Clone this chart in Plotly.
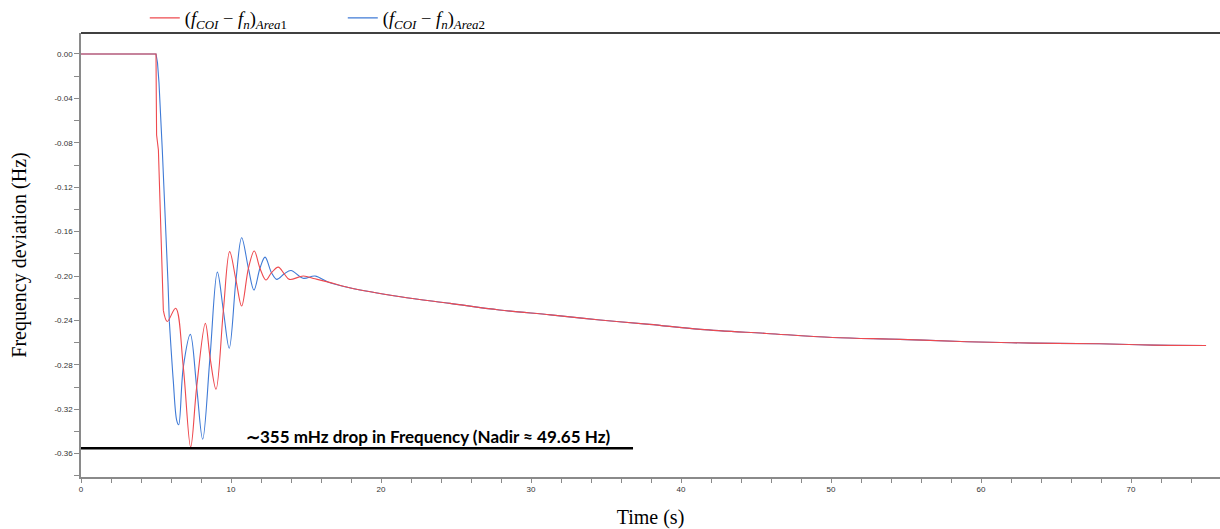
import plotly.graph_objects as go

# ---- data ----
# Area 1: initial drop (straight segments) and the oscillating / settling part
t_area1_drop = [0, 2.0, 4.0, 5.0, 5.02, 5.04, 5.16, 5.27, 5.38, 5.49]
f_area1_drop = [0, 0, 0, 0, -0.04, -0.073, -0.0865, -0.14, -0.19, -0.231]
t_area1 = [5.49, 5.75, 6.31, 6.82, 7.31, 7.71, 8.29, 8.6, 9.0,
           9.49, 9.91, 10.33, 10.71, 11.16, 11.55, 11.93, 12.33, 12.7, 13.15, 13.55, 13.89,
           14.82, 15.6, 16.5, 17.9, 21.3, 24.6, 27.9, 31.3, 34.6, 37.9, 41.3, 45.7, 50.1,
           54.6, 59.1, 63.5, 67.9, 71.5, 75.0]
f_area1 = [-0.231, -0.241, -0.229, -0.282, -0.354, -0.300,
           -0.2426, -0.273, -0.302, -0.231, -0.178, -0.2036, -0.227, -0.193, -0.1775, -0.193,
           -0.2036, -0.197, -0.192, -0.198, -0.203, -0.200, -0.2025, -0.2055, -0.2105, -0.2186,
           -0.2246, -0.2306, -0.235, -0.2396, -0.2435, -0.248, -0.2517, -0.2553, -0.257,
           -0.2592, -0.2604, -0.261, -0.2622, -0.2625]

# Area 2
t_area2_drop = [0, 2.0, 4.0, 5.0, 5.1, 5.2, 5.42, 5.65, 5.8, 5.89]
f_area2_drop = [0, 0, 0, 0, -0.008, -0.026, -0.0865, -0.152, -0.206, -0.241]
t_area2 = [5.89, 6.15, 6.38, 6.51, 6.82, 7.29, 7.71, 8.11, 8.6,
           9.09, 9.49, 9.88, 10.33, 10.71, 11.16, 11.53, 11.93, 12.27, 12.7, 13.05, 13.55,
           14.0, 14.8, 15.6, 16.5, 17.9, 21.3, 24.6, 27.9, 31.3, 34.6, 37.9, 41.3, 45.7, 50.1,
           54.6, 59.1, 63.5, 67.9, 71.5, 75.0]
f_area2 = [-0.241, -0.294, -0.33, -0.334, -0.282,
           -0.2525, -0.300, -0.347, -0.273, -0.1965, -0.231, -0.265, -0.2036, -0.1655, -0.193,
           -0.2126, -0.193, -0.183, -0.197, -0.203, -0.198, -0.195, -0.202, -0.200, -0.2055,
           -0.2105, -0.2186, -0.2246, -0.2306, -0.235, -0.2396, -0.2435, -0.248, -0.2517,
           -0.2553, -0.257, -0.2592, -0.2604, -0.261, -0.2622, -0.2625]

nadir_value = -0.355
nadir_line_t = [0, 36.8]
nadir_label = "∼355 mHz drop in Frequency (Nadir ≈ 49.65 Hz)"
nadir_label_pos = (23.1, -0.3445)

y_ticks = [0.0, -0.04, -0.08, -0.12, -0.16, -0.20, -0.24, -0.28, -0.32, -0.36]
x_ticks = [0, 10, 20, 30, 40, 50, 60, 70]

name1 = "(<i>f</i><sub><i>COI</i></sub> − <i>f</i><sub><i>n</i></sub>)<sub><i>Area</i>1</sub>"
name2 = "(<i>f</i><sub><i>COI</i></sub> − <i>f</i><sub><i>n</i></sub>)<sub><i>Area</i>2</sub>"

RED = "#EE4A4F"
BLUE = "#3F7AD6"

fig = go.Figure()
# blue drawn first so red lies on top
fig.add_trace(go.Scatter(x=t_area2_drop, y=f_area2_drop, mode="lines", legendgroup="a2",
                         showlegend=False, hoverinfo="skip",
                         line=dict(color=BLUE, width=1.1)))
fig.add_trace(go.Scatter(x=t_area2, y=f_area2, mode="lines", name=name2, legendrank=2,
                         legendgroup="a2",
                         line=dict(color=BLUE, width=1.1, shape="spline", smoothing=1.0)))
fig.add_trace(go.Scatter(x=t_area1_drop, y=f_area1_drop, mode="lines", legendgroup="a1",
                         showlegend=False, hoverinfo="skip",
                         line=dict(color=RED, width=1.1)))
fig.add_trace(go.Scatter(x=t_area1, y=f_area1, mode="lines", name=name1, legendrank=1,
                         legendgroup="a1",
                         line=dict(color=RED, width=1.1, shape="spline", smoothing=1.0)))
fig.add_trace(go.Scatter(x=nadir_line_t, y=[nadir_value, nadir_value], mode="lines",
                         showlegend=False, hoverinfo="skip",
                         line=dict(color="black", width=2.5)))

fig.add_annotation(x=nadir_label_pos[0], y=nadir_label_pos[1], xref="x", yref="y",
                   text="<b>" + nadir_label + "</b>",
                   showarrow=False, font=dict(family="Lato", size=17, color="black"))

# dark top frame line
fig.add_shape(type="line", xref="paper", yref="paper", x0=0, x1=1, y0=1, y1=1,
              layer="above", line=dict(color="#404040", width=1.8))

fig.update_layout(
    width=1220, height=529,
    margin=dict(l=81, r=0, t=33, b=52, autoexpand=False),
    paper_bgcolor="white", plot_bgcolor="white",
    showlegend=True,
    legend=dict(orientation="h", x=0.056, y=1.033, xanchor="left", yanchor="middle",
                font=dict(family="Liberation Serif", size=18.5, color="black"),
                entrywidth=153, entrywidthmode="pixels", bgcolor="rgba(0,0,0,0)"),
)

fig.update_xaxes(range=[0, 75.93], tickvals=x_ticks, ticktext=[str(v) for v in x_ticks],
                 automargin=False,
                 showgrid=False, zeroline=False, showline=True, linecolor="#8a8a8a", linewidth=1.5,
                 ticks="outside", ticklen=4, tickcolor="#8a8a8a", tickwidth=1,
                 minor=dict(dtick=2, ticks="outside", ticklen=4, tickcolor="#8a8a8a", tickwidth=1),
                 tickfont=dict(family="Liberation Sans", size=8, color="#333333"),
                 title=dict(text="Time (s)", font=dict(family="Liberation Serif", size=20, color="black"),
                            standoff=18))

fig.update_yaxes(range=[-0.381, 0.0189], tickvals=y_ticks, ticktext=[f"{v:.2f}" for v in y_ticks],
                 automargin=False,
                 showgrid=False, zeroline=False, showline=True, linecolor="#8a8a8a", linewidth=1.5,
                 ticks="outside", ticklen=5, tickcolor="#8a8a8a", tickwidth=1,
                 minor=dict(dtick=0.02, tick0=0, ticks="outside", ticklen=5, tickcolor="#8a8a8a", tickwidth=1),
                 tickfont=dict(family="Liberation Sans", size=8, color="#333333"),
                 title=dict(text="Frequency deviation (Hz)",
                            font=dict(family="Liberation Serif", size=20, color="black"),
                            standoff=22))

fig.write_html("out.html", config={"displayModeBar": False},
               post_script="document.body.style.margin='0';document.body.style.overflow='hidden';")
